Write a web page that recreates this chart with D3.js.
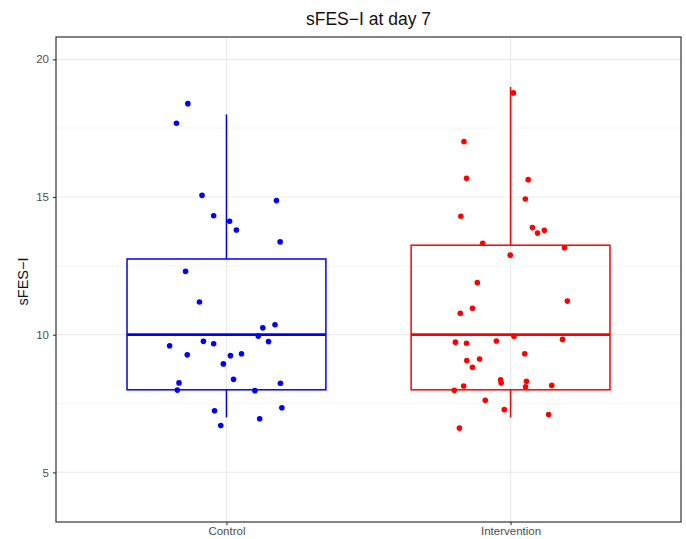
<!DOCTYPE html>
<html>
<head>
<meta charset="utf-8">
<script src="https://cdn.jsdelivr.net/npm/d3@7"></script>
<style>
  body { margin: 0; background: #fff; }
  svg { display: block; font-family: "Liberation Sans", Arial, sans-serif; }
</style>
</head>
<body>
<svg id="chart" width="686" height="539"></svg>
<script>
const groups = ["Control", "Intervention"];
const groupColors = ["#0000ff", "#ff0000"];
const yTicks = [5, 10, 15, 20];
const yMinor = [7.5, 12.5, 17.5];

// box stats: whisker low, Q1, median, Q3, whisker high
const boxStats = [
  { low: 7, q1: 8, median: 10, q3: 12.75, high: 18 },
  { low: 7, q1: 8, median: 10, q3: 13.25, high: 19 },
];

// jittered observations: [offset from group centre, value]
const controlPoints = [
  [-0.136, 18.39], [-0.176, 17.68], [-0.086, 15.06], [0.176, 14.87], [-0.045, 14.32],
  [0.011, 14.12], [0.035, 13.8], [0.189, 13.37], [-0.144, 12.3], [-0.095, 11.19],
  [0.171, 10.36], [0.128, 10.25], [0.112, 9.95], [-0.081, 9.76], [-0.045, 9.67],
  [0.148, 9.75], [-0.2, 9.6], [-0.138, 9.27], [0.014, 9.24], [0.053, 9.31],
  [-0.011, 8.94], [0.025, 8.38], [-0.167, 8.25], [0.19, 8.24], [-0.173, 7.99],
  [0.1, 7.97], [0.195, 7.35], [-0.042, 7.24], [0.117, 6.95], [-0.02, 6.7],
];
const interventionPoints = [
  [0.01, 18.78], [-0.164, 17.01], [-0.155, 15.68], [0.062, 15.63], [0.052, 14.93],
  [-0.175, 14.3], [0.077, 13.89], [0.119, 13.79], [0.095, 13.69], [-0.098, 13.32],
  [0.19, 13.16], [-0.001, 12.89], [-0.117, 11.89], [0.2, 11.22], [-0.134, 10.96],
  [-0.177, 10.78], [0.012, 9.94], [-0.194, 9.73], [-0.155, 9.69], [-0.05, 9.77],
  [0.183, 9.83], [0.05, 9.31], [-0.154, 9.06], [-0.109, 9.12], [-0.134, 8.82],
  [-0.035, 8.36], [-0.033, 8.25], [0.056, 8.31], [0.053, 8.11], [-0.165, 8.14],
  [0.145, 8.16], [-0.198, 7.98], [-0.089, 7.62], [-0.022, 7.28], [0.134, 7.1],
  [-0.18, 6.61],
];
const pointSets = [controlPoints, interventionPoints];

const width = 686;
const height = 539;
const margin = { top: 37, right: 5, bottom: 17, left: 56 };

const svg = d3.select("#chart");

const x = d3
  .scaleLinear()
  .domain([0.4, 2.6])
  .range([margin.left, width - margin.right]);

const y = d3
  .scaleLinear()
  .domain([3.2, 20.81])
  .range([height - margin.bottom, margin.top]);

const grid = svg.append("g");
grid
  .selectAll("line.minor")
  .data(yMinor)
  .join("line")
  .attr("x1", margin.left)
  .attr("x2", width - margin.right)
  .attr("y1", (d) => y(d))
  .attr("y2", (d) => y(d))
  .attr("stroke", "#f0f0f0")
  .attr("stroke-width", 0.7);
grid
  .selectAll("line.major")
  .data(yTicks)
  .join("line")
  .attr("x1", margin.left)
  .attr("x2", width - margin.right)
  .attr("y1", (d) => y(d))
  .attr("y2", (d) => y(d))
  .attr("stroke", "#ebebeb")
  .attr("stroke-width", 1.2);
grid
  .selectAll("line.vert")
  .data(groups)
  .join("line")
  .attr("x1", (d, i) => x(i + 1))
  .attr("x2", (d, i) => x(i + 1))
  .attr("y1", margin.top)
  .attr("y2", height - margin.bottom)
  .attr("stroke", "#ebebeb")
  .attr("stroke-width", 1.2);

const boxWidth = 0.7;
boxStats.forEach((s, i) => {
  const g = svg.append("g").attr("stroke", groupColors[i]).attr("fill", "none");
  const cx = x(i + 1);
  g.append("line")
    .attr("x1", cx).attr("x2", cx)
    .attr("y1", y(s.q3)).attr("y2", y(s.high))
    .attr("stroke-width", 1.5);
  g.append("line")
    .attr("x1", cx).attr("x2", cx)
    .attr("y1", y(s.q1)).attr("y2", y(s.low))
    .attr("stroke-width", 1.5);
  g.append("rect")
    .attr("x", x(i + 1 - boxWidth / 2))
    .attr("width", x(i + 1 + boxWidth / 2) - x(i + 1 - boxWidth / 2))
    .attr("y", y(s.q3))
    .attr("height", y(s.q1) - y(s.q3))
    .attr("stroke-width", 1.5);
  g.append("line")
    .attr("x1", x(i + 1 - boxWidth / 2))
    .attr("x2", x(i + 1 + boxWidth / 2))
    .attr("y1", y(s.median))
    .attr("y2", y(s.median))
    .attr("stroke-width", 2.8);
});

pointSets.forEach((pts, i) => {
  svg
    .append("g")
    .selectAll("circle")
    .data(pts)
    .join("circle")
    .attr("cx", (d) => x(i + 1 + d[0]))
    .attr("cy", (d) => y(d[1]))
    .attr("r", 2.8)
    .attr("fill", groupColors[i]);
});

svg
  .append("rect")
  .attr("x", margin.left)
  .attr("y", margin.top)
  .attr("width", width - margin.right - margin.left)
  .attr("height", height - margin.bottom - margin.top)
  .attr("fill", "none")
  .attr("stroke", "#333")
  .attr("stroke-width", 1.2);

const yAxis = svg
  .append("g")
  .attr("transform", `translate(${margin.left},0)`)
  .call(d3.axisLeft(y).tickValues(yTicks).tickSize(3).tickPadding(4));
const xAxis = svg
  .append("g")
  .attr("transform", `translate(0,${height - margin.bottom})`)
  .call(
    d3.axisBottom(x)
      .tickValues([1, 2])
      .tickFormat((d) => groups[d - 1])
      .tickSize(3)
      .tickPadding(2)
  );
[yAxis, xAxis].forEach((ax) => {
  ax.select(".domain").remove();
  ax.selectAll(".tick line").attr("stroke", "#333").attr("stroke-width", 1.1);
  ax.selectAll(".tick text")
    .attr("fill", "#4d4d4d")
    .attr("font-size", 11.5)
    .attr("font-family", "Liberation Sans, Arial, sans-serif");
});

svg
  .append("text")
  .attr("x", (margin.left + width - margin.right) / 2)
  .attr("y", 25)
  .attr("text-anchor", "middle")
  .attr("font-size", 17.5)
  .attr("fill", "#111")
  .text("sFES\u2212I at day 7");

svg
  .append("text")
  .attr("transform", `translate(28,${(margin.top + height - margin.bottom) / 2 + 2}) rotate(-90)`)
  .attr("text-anchor", "middle")
  .attr("font-size", 14.5)
  .attr("fill", "#111")
  .text("sFES\u2212I");
</script>
</body>
</html>
